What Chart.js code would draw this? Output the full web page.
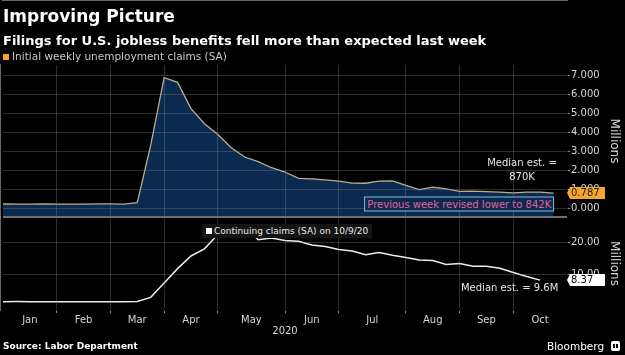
<!DOCTYPE html>
<html>
<head>
<meta charset="utf-8">
<script src="https://cdn.jsdelivr.net/npm/chart.js@4.4.1/dist/chart.umd.min.js"></script>
<style>
  html, body { margin: 0; padding: 0; background: #000; }
  #wrap { position: relative; width: 625px; height: 355px; background: #000; overflow: hidden; font-family: "DejaVu Sans", sans-serif; }
  #c { position: absolute; left: 0; top: 0; }
  .t { position: absolute; white-space: nowrap; color: #fff; line-height: 1; }
  #title { left: 3px; top: 8px; font: bold 17px/17px "DejaVu Sans"; }
  #sub { left: 3px; top: 34px; font: bold 13px/13px "DejaVu Sans"; }
  #leg1 { left: 3px; top: 50px; font: 10.5px/12px "DejaVu Sans"; color: #c8c8c8; }
  #leg1 i { display: inline-block; width: 6px; height: 6px; background: #f4a23c; margin-right: 3px; vertical-align: 0px; }
  #leg2 { left: 202px; top: 224px; height: 14px; padding: 0 4px; background: #151515; font: 9px/14px "DejaVu Sans"; color: #e8e8e8; }
  #leg2 i { display: inline-block; width: 6px; height: 6px; background: #fff; margin-right: 2px; vertical-align: 0px; }
  #src { left: 3px; top: 342px; font: bold 9px/9px "DejaVu Sans"; }
  #bbg { left: 547px; top: 340px; font: 10.5px "DejaVu Sans"; }
  #logo { position: absolute; left: 611px; top: 341px; width: 9px; height: 10px; background: #fff; border-radius: 2px; }
  #logo::after { content: ""; position: absolute; left: 2px; top: 3px; width: 5px; height: 4px; border-left: 2px solid #000; border-right: 2px solid #000; box-sizing: border-box; }
  .ann { position: absolute; white-space: nowrap; font: 10px/14px "DejaVu Sans"; color: #e6e6e6; text-align: center; }
  #annPrev { color: #e2639e; background: #0b2a4f; border: 1px solid #8fb6d8; line-height: 13px; padding: 0 2px; }
</style>
</head>
<body>
<div id="wrap">
  <canvas id="c" width="625" height="355"></canvas>
  <div class="t" id="title">Improving Picture</div>
  <div class="t" id="sub">Filings for U.S. jobless benefits fell more than expected last week</div>
  <div class="t" id="leg1"><i></i>Initial weekly unemployment claims (SA)</div>
  <div class="t" id="leg2"><i></i>Continuing claims (SA) on 10/9/20</div>
  <div class="ann" id="annMedInit">Median est. =<br>870K</div>
  <div class="ann" id="annPrev">Previous week revised lower to 842K</div>
  <div class="ann" id="annMedCont">Median est. = 9.6M</div>
  <div class="t" id="src">Source: Labor Department</div>
  <div class="t" id="bbg">Bloomberg</div>
  <div id="logo"></div>
</div>
<script>
// ---- data ----
const weekEnding = ['2020-01-04','2020-01-11','2020-01-18','2020-01-25','2020-02-01','2020-02-08','2020-02-15','2020-02-22','2020-02-29',
  '2020-03-07','2020-03-14','2020-03-21','2020-03-28','2020-04-04','2020-04-11','2020-04-18','2020-04-25','2020-05-02','2020-05-09',
  '2020-05-16','2020-05-23','2020-05-30','2020-06-06','2020-06-13','2020-06-20','2020-06-27','2020-07-04','2020-07-11','2020-07-18',
  '2020-07-25','2020-08-01','2020-08-08','2020-08-15','2020-08-22','2020-08-29','2020-09-05','2020-09-12','2020-09-19','2020-09-26',
  '2020-10-03','2020-10-10','2020-10-17'];
const initialClaims = [0.214,0.207,0.211,0.217,0.203,0.205,0.211,0.219,0.217,0.211,
  0.282,3.307,6.867,6.615,5.237,4.442,3.867,3.176,2.687,2.446,
  2.123,1.897,1.566,1.540,1.482,1.413,1.310,1.307,1.422,1.435,
  1.191,0.971,1.104,1.011,0.881,0.893,0.866,0.840,0.800,0.840,
  0.842,0.787];
const continuingClaims = [1.72,1.77,1.73,1.70,1.68,1.72,1.71,1.73,1.70,1.70,
  1.78,3.06,7.45,11.9,15.8,18.0,22.4,22.5,24.9,20.8,
  21.3,20.6,20.3,19.2,18.7,17.8,17.3,16.2,16.9,16.0,
  15.3,14.6,14.4,13.2,13.5,12.65,12.65,12.0,10.7,9.5,
  8.37];
const monthNames = ['Jan','Feb','Mar','Apr','May','Jun','Jul','Aug','Sep','Oct'];
const monthStartWeek = [0,4,8,12,16,21,25,30,34,38,42];
const initialTicks = [0,1,2,3,4,5,6,7];
const continuingTicks = [10,20];
const yearLabel = '2020';

// ---- helpers ----
const monthMid = monthNames.map((n, m) => (monthStartWeek[m] + monthStartWeek[m + 1]) / 2);
const monthBounds = monthStartWeek.slice(1, -1);
const FONT = 'DejaVu Sans';
const GRID = 'rgba(140,140,140,0.32)';
const TICKTXT = '#d6d6d6';
const AXIS = '#8c8c8c';

const annotations = [
  { id: 'annMedInit', axis: 'y1', x: 38.65, y: 2.0, align: 'center' },
  { id: 'annPrev', axis: 'y1', x: 41.05, y: 0.2, align: 'right' },
  { id: 'annMedCont', axis: 'y2', x: 41.35, y: 6.0, align: 'right' }
];

function drawTag(ctx, x0, y, text, bg, fg) {
  const h = 12, w = 38, a = 3;
  ctx.beginPath();
  ctx.moveTo(x0, y);
  ctx.lineTo(x0 + a, y - h / 2);
  ctx.lineTo(x0 + w, y - h / 2);
  ctx.lineTo(x0 + w, y + h / 2);
  ctx.lineTo(x0 + a, y + h / 2);
  ctx.closePath();
  ctx.fillStyle = bg;
  ctx.fill();
  ctx.fillStyle = fg;
  ctx.font = '10px "' + FONT + '"';
  ctx.textAlign = 'left';
  ctx.textBaseline = 'middle';
  ctx.fillText(text, x0 + 4, y + 0.5);
}

const overlay = {
  id: 'overlay',
  afterDraw(chart) {
    const { ctx, chartArea, scales } = chart;
    ctx.save();
    ctx.strokeStyle = '#707070';
    ctx.lineWidth = 2;
    ctx.beginPath();
    ctx.moveTo(chartArea.left, scales.y1.bottom);
    ctx.lineTo(chartArea.right, scales.y1.bottom);
    ctx.stroke();
    const li = initialClaims[initialClaims.length - 1];
    const lc = continuingClaims[continuingClaims.length - 1];
    drawTag(ctx, chartArea.right, scales.y1.getPixelForValue(li), li.toFixed(3), '#f5a631', '#1b1b1b');
    drawTag(ctx, chartArea.right, scales.y2.getPixelForValue(lc), lc.toFixed(2), '#ffffff', '#000000');
    ctx.restore();
    for (const a of annotations) {
      const el = document.getElementById(a.id);
      const px = scales.x.getPixelForValue(a.x);
      const py = scales[a.axis].getPixelForValue(a.y);
      el.style.left = px + 'px';
      el.style.top = py + 'px';
      el.style.transform = a.align === 'right' ? 'translate(-100%,-50%)' : 'translate(-50%,-50%)';
    }
  }
};

new Chart(document.getElementById('c'), {
  type: 'line',
  data: {
    datasets: [
      {
        label: 'Initial weekly unemployment claims (SA)',
        data: initialClaims.map((v, i) => ({ x: i, y: v })),
        yAxisID: 'y1',
        borderColor: '#bcae8c',
        borderWidth: 1.3,
        backgroundColor: '#0b2a4f',
        fill: 'start',
        pointRadius: 0,
        tension: 0
      },
      {
        label: 'Continuing claims (SA) on 10/9/20',
        data: continuingClaims.map((v, i) => ({ x: i, y: v })),
        yAxisID: 'y2',
        borderColor: '#ececec',
        borderWidth: 1.5,
        fill: false,
        pointRadius: 0,
        tension: 0
      }
    ]
  },
  options: {
    responsive: false,
    animation: false,
    devicePixelRatio: 1,
    layout: { padding: { top: 65, left: 3, right: 0, bottom: 15 } },
    plugins: { legend: { display: false }, tooltip: { enabled: false } },
    scales: {
      y1: {
        type: 'linear', position: 'right', stack: 'panels', stackWeight: 152,
        min: -0.47, max: 7.53,
        afterBuildTicks: s => { s.ticks = initialTicks.map(v => ({ value: v })); },
        afterFit: s => { s.width = 58; },
        grid: { color: GRID, tickColor: AXIS, tickLength: 3, z: 1 },
        border: { color: AXIS, width: 1.5 },
        ticks: { autoSkip: false, color: TICKTXT, font: { family: FONT, size: 10 }, padding: 1, callback: v => Number(v).toFixed(3) },
        title: { display: true, text: 'Millions', color: TICKTXT, font: { family: FONT, size: 12 }, padding: { top: 4, bottom: 0 } }
      },
      y2: {
        type: 'linear', position: 'right', stack: 'panels', stackWeight: 93,
        min: -0.83, max: 27.8,
        afterBuildTicks: s => { s.ticks = continuingTicks.map(v => ({ value: v })); },
        afterFit: s => { s.width = 58; },
        grid: { color: GRID, tickColor: AXIS, tickLength: 3, z: 1 },
        border: { color: AXIS, width: 1.5 },
        ticks: { autoSkip: false, color: TICKTXT, font: { family: FONT, size: 10 }, padding: 1, callback: v => Number(v).toFixed(2) },
        title: { display: true, text: 'Millions', color: TICKTXT, font: { family: FONT, size: 12 }, padding: { top: 4, bottom: 0 } }
      },
      x: {
        type: 'linear', position: 'bottom', min: 0, max: monthStartWeek[monthStartWeek.length - 1],
        afterBuildTicks: s => {
          s.ticks = monthBounds.concat(monthMid).sort((a, b) => a - b).map(v => ({ value: v }));
        },
        afterFit: s => { s.height = 30; },
        grid: {
          z: 1, tickLength: 3,
          color: c => (c.tick && monthBounds.includes(c.tick.value)) ? GRID : 'rgba(0,0,0,0)',
          tickColor: c => (c.tick && monthBounds.includes(c.tick.value)) ? AXIS : 'rgba(0,0,0,0)'
        },
        border: { color: AXIS, width: 1.5 },
        ticks: {
          autoSkip: false, maxRotation: 0, color: TICKTXT, font: { family: FONT, size: 10 }, padding: 1,
          callback: v => { const k = monthMid.indexOf(v); return k >= 0 ? monthNames[k] : ''; }
        },
        title: { display: true, text: yearLabel, color: TICKTXT, font: { family: FONT, size: 10 }, padding: { top: 0, bottom: 3 } }
      }
    }
  },
  plugins: [overlay]
});
</script>
</body>
</html>
